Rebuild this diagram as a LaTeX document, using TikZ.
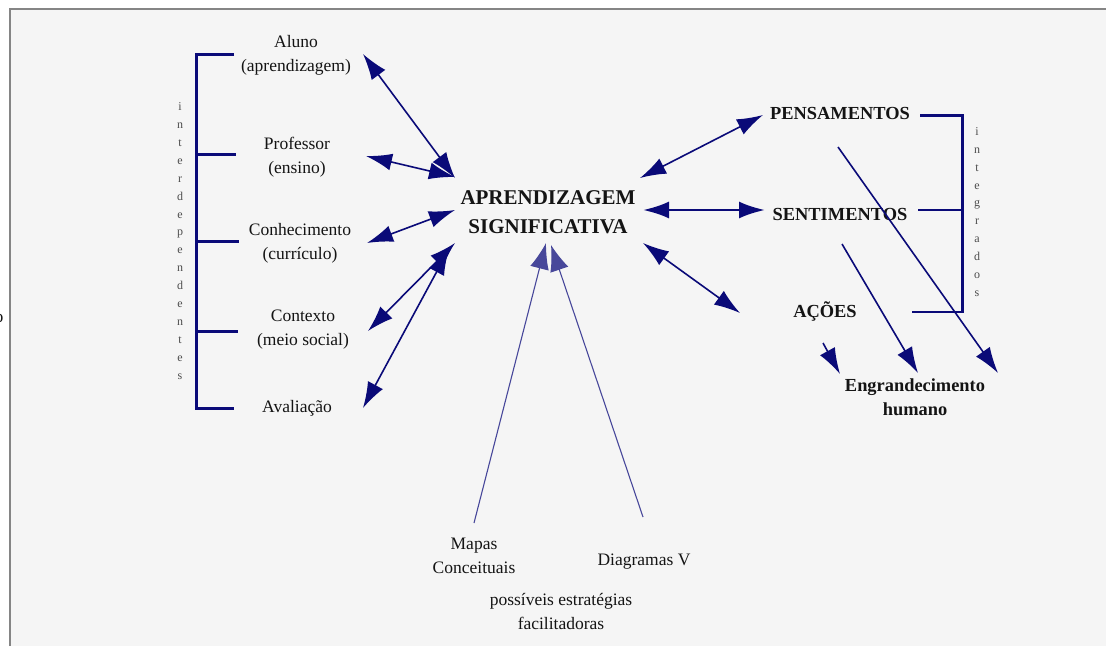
\documentclass[tikz,border=0pt]{standalone}
\usepackage{fontspec}
\setmainfont{Liberation Serif}
\usetikzlibrary{arrows.meta}
\definecolor{navy}{HTML}{0A0A78}
\definecolor{panel}{HTML}{F5F5F5}
\definecolor{rim}{HTML}{858585}
\begin{document}
\begin{tikzpicture}[x=1pt,y=-1pt,
  lbl/.style={font=\fontsize{17.5}{24}\selectfont, align=center, text=black!92, inner sep=0},
  hub/.style={font=\fontsize{21}{29}\selectfont\bfseries, align=center, text=black!92, inner sep=0},
  key/.style={font=\fontsize{18.4}{24}\selectfont\bfseries, align=center, text=black!92, inner sep=0},
  vert/.style={font=\fontsize{12}{17.9}\selectfont, align=center, text=black!70, inner sep=0},
  brace/.style={draw=navy, line width=3pt},
  thinbrace/.style={draw=navy, line width=2pt},
  tie/.style={navy, line width=1.6pt},
  both/.style={tie, {Latex[length=26pt,width=17pt]}-{Latex[length=26pt,width=17pt]}},
  one/.style={tie, -{Latex[length=26pt,width=17pt]}},
  faint/.style={navy!75, line width=1.1pt, -{Latex[length=26pt,width=19pt]}},
]
% page and framed panel
\useasboundingbox (0,0) rectangle (1106,646);
\fill[white] (0,0) rectangle (1106,646);
\fill[panel] (10,9) rectangle (1106,646);
\draw[rim, line width=2pt] (10,646) -- (10,9) -- (1106,9);
\node[lbl] (edge) at (-1,318) {o};

% left group
\node[lbl] (aluno) at (296,55) {Aluno\\(aprendizagem)};
\node[lbl] (prof) at (297,157) {Professor\\(ensino)};
\node[lbl] (conh) at (300,243) {Conhecimento\\(currículo)};
\node[lbl] (cont) at (303,330) {Contexto\\(meio social)};
\node[lbl] (aval) at (297,408) {Avaliação};
\node[vert] (interdep) at (180,241) {i\\n\\t\\e\\r\\d\\e\\p\\e\\n\\d\\e\\n\\t\\e\\s};
\draw[brace] (234,54) -- (196,54) -- (196,408) -- (234,408);
\draw[brace] (196,154) -- (236,154);
\draw[brace] (196,241) -- (239,241);
\draw[brace] (196,331) -- (238,331);

% centre
\node[hub] (hubnode) at (548,212) {APRENDIZAGEM\\SIGNIFICATIVA};

% right group
\node[key] (pens) at (840,113) {PENSAMENTOS};
\node[key] (sent) at (840,214) {SENTIMENTOS};
\node[key] (acoes) at (825,311) {AÇÕES};
\node[key] (engr) at (915,397) {Engrandecimento\\humano};
\node[vert] (integ) at (977,212) {i\\n\\t\\e\\g\\r\\a\\d\\o\\s};
\draw[brace] (920,115) -- (962,115) -- (962,313);
\draw[thinbrace] (918,210) -- (962,210);
\draw[thinbrace] (912,312) -- (962,312);

% bottom group
\node[lbl] (mapas) at (474,556) {Mapas\\Conceituais};
\node[lbl] (diag) at (644,562) {Diagramas V};
\node[lbl] (estr) at (561,611) {possíveis estratégias\\facilitadoras};

% connector end points
\coordinate (a1) at (363,54);   \coordinate (h1) at (455,178);
\coordinate (a2) at (366,156);  \coordinate (h2) at (455,177);
\coordinate (a3) at (367,243);  \coordinate (h3) at (455,210);
\coordinate (a4) at (368,331);  \coordinate (h4) at (455,243);
\coordinate (a5) at (363,408);  \coordinate (h5) at (449,249);
\coordinate (m1) at (474,523);  \coordinate (h6) at (546,243);
\coordinate (d1) at (643,517);  \coordinate (h7) at (551,245);
\coordinate (r1) at (640,178);  \coordinate (p1) at (763,115);
\coordinate (r2) at (643,210);  \coordinate (s1) at (765,210);
\coordinate (r3) at (643,243);  \coordinate (c1) at (740,313);
\coordinate (p2) at (838,147);  \coordinate (e1) at (998,373);
\coordinate (s2) at (842,244);  \coordinate (e2) at (918,373);
\coordinate (c2) at (823,343);  \coordinate (e3) at (840,374);

% left arrows
\draw[both] (a1) -- (h1);
\draw[both] (a2) -- (h2);
\draw[both] (a3) -- (h3);
\draw[both] (a4) -- (h4);
\draw[both] (a5) -- (h5);

% strategies
\draw[faint] (m1) -- (h6);
\draw[faint] (d1) -- (h7);

% right arrows
\draw[both] (r1) -- (p1);
\draw[both, line width=2.6pt] (r2) -- (s1);
\draw[both] (r3) -- (c1);
\draw[one] (p2) -- (e1);
\draw[one] (s2) -- (e2);
\draw[one] (c2) -- (e3);
\end{tikzpicture}
\end{document}
